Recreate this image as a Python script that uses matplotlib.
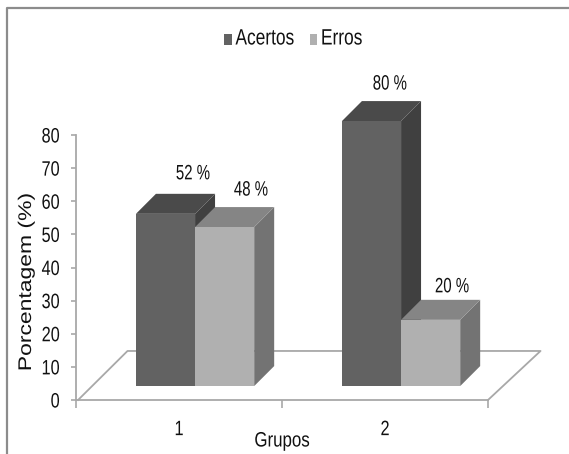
import matplotlib
matplotlib.use("Agg")
import matplotlib.pyplot as plt
from matplotlib.lines import Line2D
from matplotlib.patches import Rectangle
from matplotlib.patheffects import AbstractPathEffect
from matplotlib.transforms import Affine2D

# dados
grupos = ["1", "2"]
series = ["Acertos", "Erros"]
acertos = [52, 80]
erros = [48, 20]
rotulos_y = [0, 10, 20, 30, 40, 50, 60, 70, 80]

W, H = 569, 454
fonte = "Liberation Sans"
preto = "#111111"

# cores: frente, lado, topo
cor_acertos = ("#626262", "#404040", "#4a4a4a")
cor_erros = ("#b0b0b0", "#737373", "#858585")
cinza = "#a8a8a8"


# o grafico original foi achatado na horizontal, entao o texto tambem
class Achatado(AbstractPathEffect):
    def __init__(self, sx=1.0, sy=1.0, ancora="center"):
        super().__init__()
        self.sx, self.sy, self.ancora = sx, sy, ancora

    def draw_path(self, renderer, gc, tpath, affine, rgbFace=None):
        ext = tpath.get_extents()
        cx = ext.x1 if self.ancora == "right" else (ext.x0 + ext.x1) / 2
        t = Affine2D().translate(-cx, 0).scale(self.sx, self.sy).translate(cx, 0)
        renderer.draw_path(gc, tpath, t + affine, rgbFace)


fig = plt.figure(figsize=(W / 100, H / 100), dpi=100)
ax = fig.add_axes([76 / W, 1 - 400 / H, 412 / W, 265 / H])
ax.set_xlim(0, 2)
ax.set_ylim(0, 80)

largura = 0.287   # largura da barra
dx = 0.097        # profundidade 3D
dy = 6.04
base = 4.2        # barras ficam acima do piso


def barra3d(x, valor, cores):
    t = base + valor
    ax.fill([x, x + largura, x + largura, x], [base, base, t, t], color=cores[0], lw=0, zorder=3, clip_on=False)
    ax.fill([x + largura, x + largura + dx, x + largura + dx, x + largura],
            [base, base + dy, t + dy, t], color=cores[1], lw=0, zorder=2, clip_on=False)
    ax.fill([x, x + dx, x + largura + dx, x + largura], [t, t + dy, t + dy, t],
            color=cores[2], lw=0, zorder=2, clip_on=False)


def rotulo(x, valor, ox, oy):
    # ox, oy em pixels a partir do canto de tras da barra
    ax.annotate("%d %%" % valor, (x, valor + base + dy), xytext=(ox * 0.72, oy * 0.72), textcoords="offset points",
                family=fonte, fontsize=15, color=preto, ha="center", va="center",
                annotation_clip=False, path_effects=[Achatado(0.72)])


for i in range(len(grupos)):
    barra3d(i + 0.291, acertos[i], cor_acertos)
    barra3d(i + 0.578, erros[i], cor_erros)

rotulo(0.291, acertos[0], 57, 20)
rotulo(0.578, erros[0], 56, 17)
rotulo(1.291, acertos[1], 48, 17)
rotulo(1.578, erros[1], 51, 13)

# piso
ax.plot([0.01, 0.25, 2.255, 2], [0, 14.8, 14.8, 0], color=cinza, lw=1.3, zorder=1, clip_on=False)

for s in ["top", "right"]:
    ax.spines[s].set_visible(False)
for s in ["left", "bottom"]:
    ax.spines[s].set_color(cinza)
    ax.spines[s].set_linewidth(1.3)

ax.set_yticks(rotulos_y)
ax.set_yticklabels(rotulos_y, family=fonte, fontsize=15, color=preto)
ax.set_xticks([0, 1, 2])
ax.set_xticklabels([])
ax.set_xticks([0.5, 1.5], labels=grupos, minor=True, family=fonte, fontsize=15, color=preto)
ax.tick_params(axis="both", which="major", color=cinza, length=3.5, width=1.2)
ax.tick_params(axis="x", which="major", length=6)
ax.tick_params(axis="x", which="minor", length=0, pad=14.5)
ax.tick_params(axis="y", pad=8)
for t in ax.get_yticklabels():
    t.set_path_effects([Achatado(0.78, ancora="right")])
for t in ax.get_xticklabels(minor=True):
    t.set_path_effects([Achatado(0.78)])

ax.set_xlabel("Grupos", family=fonte, fontsize=15, color=preto, labelpad=-5.5,
              path_effects=[Achatado(0.81)])
ax.set_ylabel("Porcentagem (%)", family=fonte, fontsize=16.5, color=preto, va="center",
              path_effects=[Achatado(1.0, 0.8)])
ax.yaxis.set_label_coords(-0.125, 0.445)

# legenda
for nome, cor, xq, wq, xt in zip(series, [cor_acertos[0], cor_erros[0]], [224, 310], [8, 7], [265, 341.5]):
    fig.add_artist(Rectangle((xq / W, 1 - 45 / H), wq / W, 11 / H, color=cor, lw=0, transform=fig.transFigure))
    fig.text(xt / W, 1 - 39 / H, nome, family=fonte, fontsize=16, color=preto, ha="center", va="center",
             path_effects=[Achatado(0.78)])

# moldura
fig.add_artist(Line2D([7 / W, 7 / W, 1], [0, 1 - 8 / H, 1 - 8 / H], color="#8c8c8c", lw=1.6))

fig.savefig("out.png", dpi=100)
